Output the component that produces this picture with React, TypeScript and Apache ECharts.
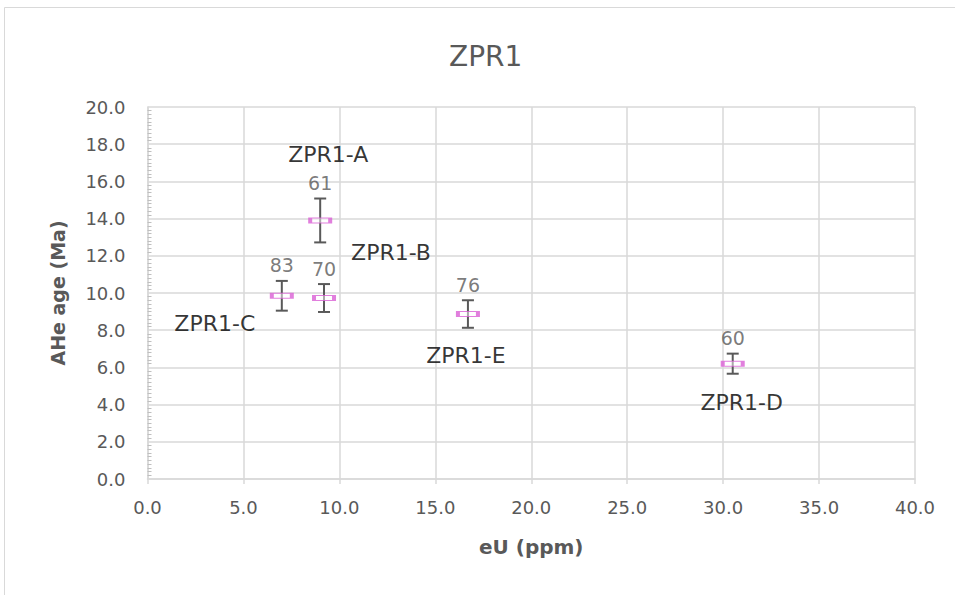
import React, { useEffect, useRef } from "react";
import * as echarts from "echarts";

const sampleNames = ["ZPR1-A", "ZPR1-B", "ZPR1-C", "ZPR1-E", "ZPR1-D"];
const eU = [9.0, 9.2, 7.0, 16.7, 30.5];
const age = [13.9, 9.73, 9.85, 8.87, 6.2];
const ageErr = [1.18, 0.75, 0.8, 0.74, 0.54];
const counts = ["61", "70", "83", "76", "60"];
// label layout offsets (pixels) for the sample names
const nameOffsets: [number, number][] = [
  [8, -66],
  [67, -46],
  [-67, 28],
  [-2, 41],
  [9, 39],
];

const xTicks = { min: 0, max: 40, interval: 5 };
const yTicks = { min: 0, max: 20, interval: 2 };

const GRAY = "#595959";
const GRID = "#d9d9d9";
const FONT = "'DejaVu Sans', sans-serif";

export default function App() {
  const ref = useRef<HTMLDivElement>(null);
  useEffect(() => {
    if (!ref.current) return;
    const chart = echarts.init(ref.current, null, { renderer: "svg" });
    const points = eU.map((x, i) => ({
      value: [x, age[i]],
      label: { offset: nameOffsets[i] },
    }));
    const errData = eU.map((x, i) => [x, age[i], ageErr[i]]);
    const countData = eU.map((x, i) => ({ value: [x, age[i] + ageErr[i]], name: counts[i] }));
    chart.setOption({
      animation: false,
      backgroundColor: "#ffffff",
      textStyle: { fontFamily: FONT },
      title: {
        text: "ZPR1",
        left: 444,
        top: 37,
        textStyle: { color: GRAY, fontSize: 28, fontWeight: "normal", fontFamily: FONT },
      },
      graphic: [
        {
          type: "rect",
          shape: { x: 4.5, y: 7.5, width: 1200, height: 1200 },
          style: { fill: "none", stroke: GRID, lineWidth: 1 },
          silent: true,
          z: -10,
        },
      ],
      grid: { left: 147.5, right: 40, top: 107, bottom: 116, containLabel: false },
      xAxis: {
        type: "value",
        min: xTicks.min,
        max: xTicks.max,
        interval: xTicks.interval,
        name: "eU (ppm)",
        nameLocation: "middle",
        nameGap: 58,
        nameTextStyle: { color: GRAY, fontSize: 20, fontWeight: "bold", fontFamily: FONT },
        axisLine: { show: true, lineStyle: { color: GRID, width: 1.5 } },
        axisTick: { show: true, length: 5, lineStyle: { color: GRID, width: 1.5 } },
        axisLabel: {
          color: GRAY,
          fontSize: 18,
          margin: 19,
          formatter: (v: number) => v.toFixed(1),
        },
        splitLine: { show: true, lineStyle: { color: GRID, width: 1.5 } },
      },
      yAxis: {
        type: "value",
        min: yTicks.min,
        max: yTicks.max,
        interval: yTicks.interval,
        name: "AHe age (Ma)",
        nameLocation: "middle",
        nameGap: 80,
        nameTextStyle: { color: GRAY, fontSize: 19, fontWeight: "bold", fontFamily: FONT },
        axisLine: { show: true, lineStyle: { color: GRID, width: 1.5 } },
        axisTick: { show: false, inside: true },
        minorTick: { show: true, splitNumber: 10, length: 4, lineStyle: { color: "#bfbfbf", width: 1 } },
        axisLabel: {
          color: GRAY,
          fontSize: 18,
          margin: 22,
          formatter: (v: number) => v.toFixed(1),
        },
        splitLine: { show: true, lineStyle: { color: GRID, width: 1.5 } },
      },
      series: [
        {
          type: "custom",
          name: "error",
          data: errData,
          z: 2,
          renderItem: (params: any, api: any) => {
            const x = api.value(0);
            const y = api.value(1);
            const e = api.value(2);
            const top = api.coord([x, y + e]);
            const bot = api.coord([x, y - e]);
            const half = 6;
            const style = { stroke: GRAY, lineWidth: 2, fill: "none" };
            return {
              type: "group",
              children: [
                { type: "line", shape: { x1: top[0], y1: top[1], x2: bot[0], y2: bot[1] }, style },
                { type: "line", shape: { x1: top[0] - half, y1: top[1], x2: top[0] + half, y2: top[1] }, style },
                { type: "line", shape: { x1: bot[0] - half, y1: bot[1], x2: bot[0] + half, y2: bot[1] }, style },
              ],
            };
          },
        },
        {
          type: "scatter",
          name: "samples",
          data: points,
          z: 3,
          symbol: "rect",
          symbolSize: [20, 5],
          itemStyle: { color: "rgba(255,255,255,0.6)", borderColor: "#d95fd4", borderWidth: 2 },
          label: {
            show: true,
            position: "inside",
            color: "#000000",
            fontSize: 22,
            fontFamily: FONT,
            formatter: (p: any) => sampleNames[p.dataIndex],
          },
        },
        {
          type: "scatter",
          name: "counts",
          data: countData,
          z: 4,
          symbolSize: 0,
          itemStyle: { color: "transparent" },
          label: {
            show: true,
            position: "top",
            distance: 6,
            color: GRAY,
            fontSize: 19,
            fontFamily: FONT,
            formatter: (p: any) => counts[p.dataIndex],
          },
        },
      ],
    });
    return () => chart.dispose();
  }, []);
  return (
    <div
      ref={ref}
      style={{ position: "fixed", left: 0, top: 0, width: 955, height: 595, background: "#fff" }}
    />
  );
}
